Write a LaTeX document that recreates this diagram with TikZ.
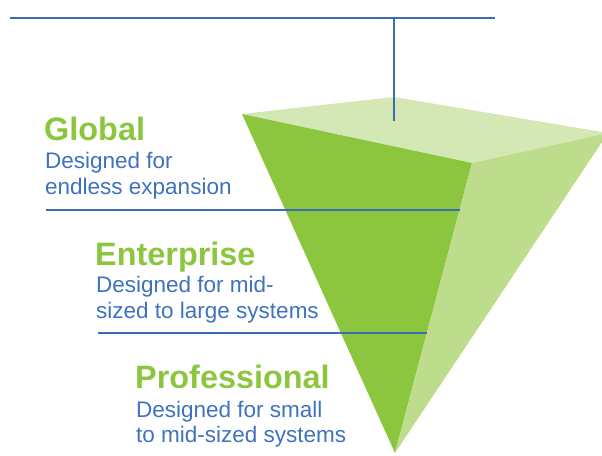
\documentclass[tikz,border=0pt]{standalone}
\usepackage{fontspec}
\setmainfont{Liberation Sans}
\definecolor{titlegreen}{HTML}{8CC63F}
\definecolor{textblue}{HTML}{3F72BE}
\definecolor{lineblue}{HTML}{3B6DB3}
\definecolor{frontface}{HTML}{8CC63F}
\definecolor{sideface}{HTML}{BEDD8C}
\definecolor{topface}{HTML}{D3E8B5}
\tikzset{
  tiertitle/.style={anchor=base west, inner sep=0pt, text=titlegreen, font=\fontsize{32.4}{34}\selectfont\bfseries},
  tierdesc/.style={anchor=base west, inner sep=0pt, text=textblue, font=\fontsize{22.5}{26}\selectfont, align=left},
  rule/.style={draw=lineblue, line width=2.3pt}
}
\begin{document}
\begin{tikzpicture}[x=1pt,y=-1pt]
\useasboundingbox (0,0) rectangle (602,455);
\begin{scope}
\clip (0,0) rectangle (602,455);
\coordinate (tl) at (242,114);
\coordinate (bk) at (394,97);
\coordinate (rt) at (608,133);
\coordinate (fr) at (472,163);
\coordinate (ap) at (395,453);
\fill[topface] (tl) -- (bk) -- (rt) -- (fr) -- cycle;
\fill[frontface] (tl) -- (fr) -- (ap) -- cycle;
\fill[sideface] (fr) -- (rt) -- (ap) -- cycle;
\end{scope}
% top rule and stem
\coordinate (t0) at (10,18);
\coordinate (t1) at (495,18);
\coordinate (s0) at (394,18);
\coordinate (s1) at (394,121);
\draw[rule] (t0) -- (t1);
\draw[rule] (s0) -- (s1);
% tier rules
\coordinate (g0) at (46,210);
\coordinate (g1) at (460,210);
\coordinate (e0) at (98,333);
\coordinate (e1) at (427,333);
\draw[rule] (g0) -- (g1);
\draw[rule] (e0) -- (e1);
% texts
\node[tiertitle] (glob) at (44,140) {Global};
\node[tierdesc] (globd) at (45,168) {Designed for};
\node[tierdesc] (globd2) at (45,194) {endless expansion};
\node[tiertitle] (ent) at (95,265) {Enterprise};
\node[tierdesc] (entd) at (96,292) {Designed for mid-};
\node[tierdesc] (entd2) at (96,318) {sized to large systems};
\node[tiertitle] (pro) at (135,388) {Professional};
\node[tierdesc] (prod) at (136,417) {Designed for small};
\node[tierdesc] (prod2) at (136,442) {to mid-sized systems};
\end{tikzpicture}
\end{document}
